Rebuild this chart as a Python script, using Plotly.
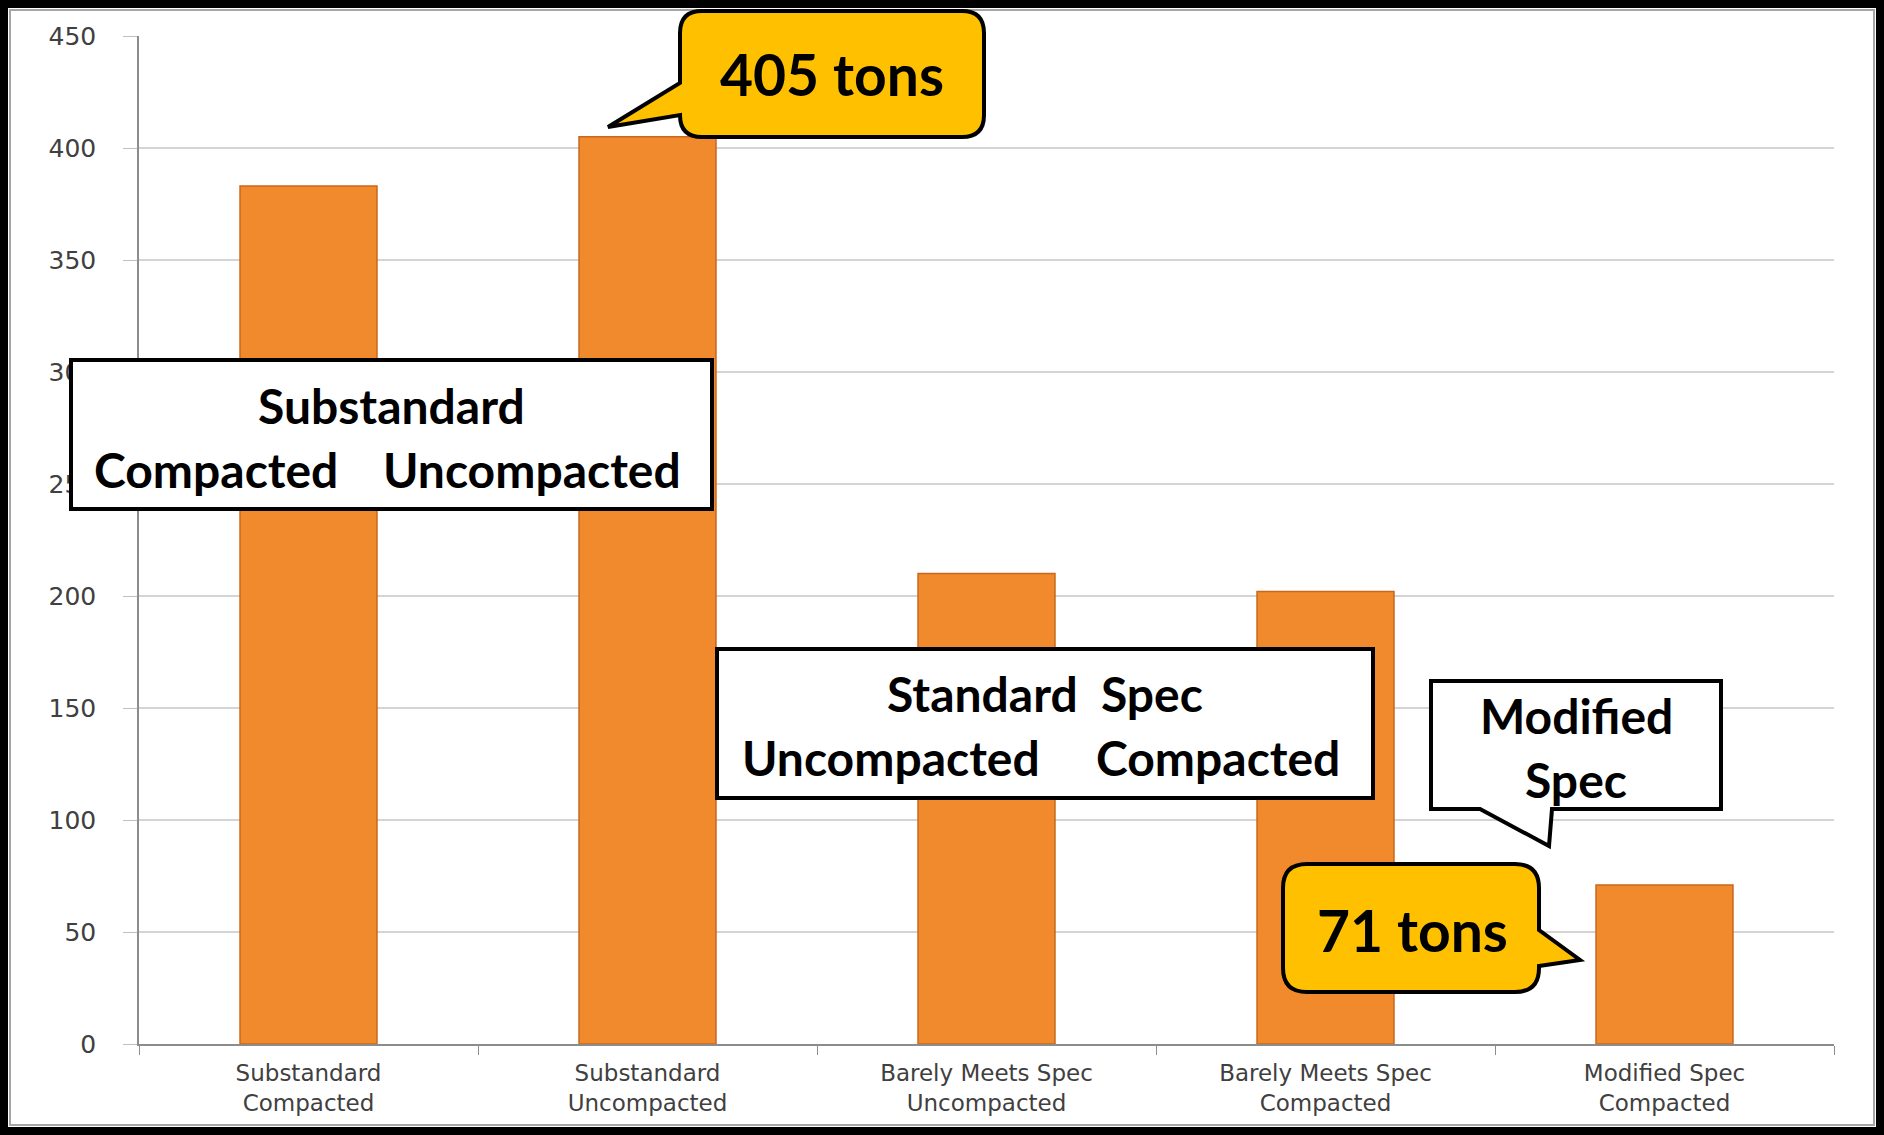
import plotly.graph_objects as go

categories = ["Substandard<br>Compacted", "Substandard<br>Uncompacted",
              "Barely Meets Spec<br>Uncompacted", "Barely Meets Spec<br>Compacted",
              "Modified Spec<br>Compacted"]
tons = [383, 405, 210, 202, 71]
y_ticks = [0, 50, 100, 150, 200, 250, 300, 350, 400, 450]

W, H = 1884, 1135
L, R, T, B = 139, 50, 36, 91
PW, PH = W - L - R, H - T - B


def px(x):
    return (x - L) / PW


def py(y):
    return (H - B - y) / PH


def path(cmds):
    out = []
    for c in cmds:
        if isinstance(c, str):
            out.append(c)
        else:
            out.append(f"{px(c[0]):.5f},{py(c[1]):.5f}")
    return " ".join(out)


def rounded_callout(x0, y0, x1, y1, r, pointer_side, base_a, base_b, tip):
    cmds = ["M", (x0 + r, y0), "L", (x1 - r, y0), "Q", (x1, y0), (x1, y0 + r)]
    if pointer_side == "right":
        cmds += ["L", (x1, base_a), "L", tip, "L", (x1, base_b)]
    cmds += ["L", (x1, y1 - r), "Q", (x1, y1), (x1 - r, y1),
             "L", (x0 + r, y1), "Q", (x0, y1), (x0, y1 - r)]
    if pointer_side == "left":
        cmds += ["L", (x0, base_b), "L", tip, "L", (x0, base_a)]
    cmds += ["L", (x0, y0 + r), "Q", (x0, y0), (x0 + r, y0), "Z"]
    return path(cmds)


fig = go.Figure()
fig.add_trace(go.Bar(
    x=categories, y=tons,
    marker=dict(color="#F08A2C", line=dict(color="#C9681C", width=1.5)),
    width=0.404,
    hoverinfo="skip",
))

shapes = []
# outer frame
shapes.append(dict(type="rect", xref="paper", yref="paper",
                   x0=px(4), y0=py(4), x1=px(W - 4), y1=py(H - 4),
                   line=dict(color="#000000", width=8), layer="above"))
shapes.append(dict(type="rect", xref="paper", yref="paper",
                   x0=px(10), y0=py(10), x1=px(W - 10), y1=py(H - 10),
                   line=dict(color="#A6A6A6", width=2), layer="above"))

# 405 tons callout
shapes.append(dict(type="path", xref="paper", yref="paper",
                   path=rounded_callout(680, 11, 984, 137, 22, "left", 83, 115, (608, 127)),
                   fillcolor="#FFC000", line=dict(color="#000000", width=4), layer="above"))
# Substandard box
shapes.append(dict(type="rect", xref="paper", yref="paper",
                   x0=px(71), y0=py(360), x1=px(712), y1=py(509),
                   fillcolor="#FFFFFF", line=dict(color="#000000", width=4), layer="above"))
# Standard Spec box
shapes.append(dict(type="rect", xref="paper", yref="paper",
                   x0=px(717), y0=py(649), x1=px(1373), y1=py(798),
                   fillcolor="#FFFFFF", line=dict(color="#000000", width=4), layer="above"))
# Modified Spec callout
shapes.append(dict(type="path", xref="paper", yref="paper",
                   path=path(["M", (1431, 681), "L", (1721, 681), "L", (1721, 809),
                              "L", (1552, 809), "L", (1549, 846), "L", (1480, 809),
                              "L", (1431, 809), "Z"]),
                   fillcolor="#FFFFFF", line=dict(color="#000000", width=4), layer="above"))
# 71 tons callout
shapes.append(dict(type="path", xref="paper", yref="paper",
                   path=rounded_callout(1283, 864, 1539, 992, 24, "right", 930, 966, (1580, 960)),
                   fillcolor="#FFC000", line=dict(color="#000000", width=4), layer="above"))

BOLD = "Lato"
annots = [
    ("405 tons", 832, 74, 57),
    ("Substandard", 391, 405, 48),
    ("Compacted", 216, 469, 48),
    ("Uncompacted", 532, 469, 48),
    ("Standard\u00a0\u00a0Spec", 1045, 693, 48),
    ("Uncompacted", 891, 757, 48),
    ("Compacted", 1218, 757, 48),
    ("Modified", 1576, 715, 48),
    ("Spec", 1576, 779, 48),
    ("71 tons", 1412, 930, 57),
]
annotations = []
for text, x, y, s in annots:
    annotations.append(dict(text=text, xref="paper", yref="paper", x=px(x), y=py(y),
                            xanchor="center", yanchor="middle", showarrow=False,
                            font=dict(family=BOLD, size=s, color="#000000", weight="bold")))

fig.update_layout(
    width=W, height=H,
    margin=dict(l=L, r=R, t=T, b=B),
    paper_bgcolor="#FFFFFF", plot_bgcolor="#FFFFFF",
    showlegend=False,
    shapes=shapes,
    annotations=annotations,
    xaxis=dict(
        type="category",
        showgrid=False,
        showline=True, linecolor="#8C8C8C", linewidth=1.5,
        ticks="outside", tickson="boundaries", ticklen=9, tickcolor="#8C8C8C",
        ticklabelstandoff=8,
        tickfont=dict(family="DejaVu Sans", size=23, color="#404040"),
        range=[-0.5, 4.5],
    ),
    yaxis=dict(
        range=[0, 450],
        tickvals=y_ticks,
        showgrid=True, gridcolor="#D4D4D4", gridwidth=2,
        showline=True, linecolor="#8C8C8C", linewidth=1.5,
        ticks="outside", ticklen=14, tickcolor="#BFBFBF",
        ticklabelstandoff=22,
        tickfont=dict(family="DejaVu Sans", size=25, color="#404040"),
        zeroline=False,
    ),
)

fig.write_html("out.html",
               config={"displayModeBar": False},
               post_script="document.body.style.margin='0';document.body.style.padding='0';document.body.style.overflow='hidden';")
